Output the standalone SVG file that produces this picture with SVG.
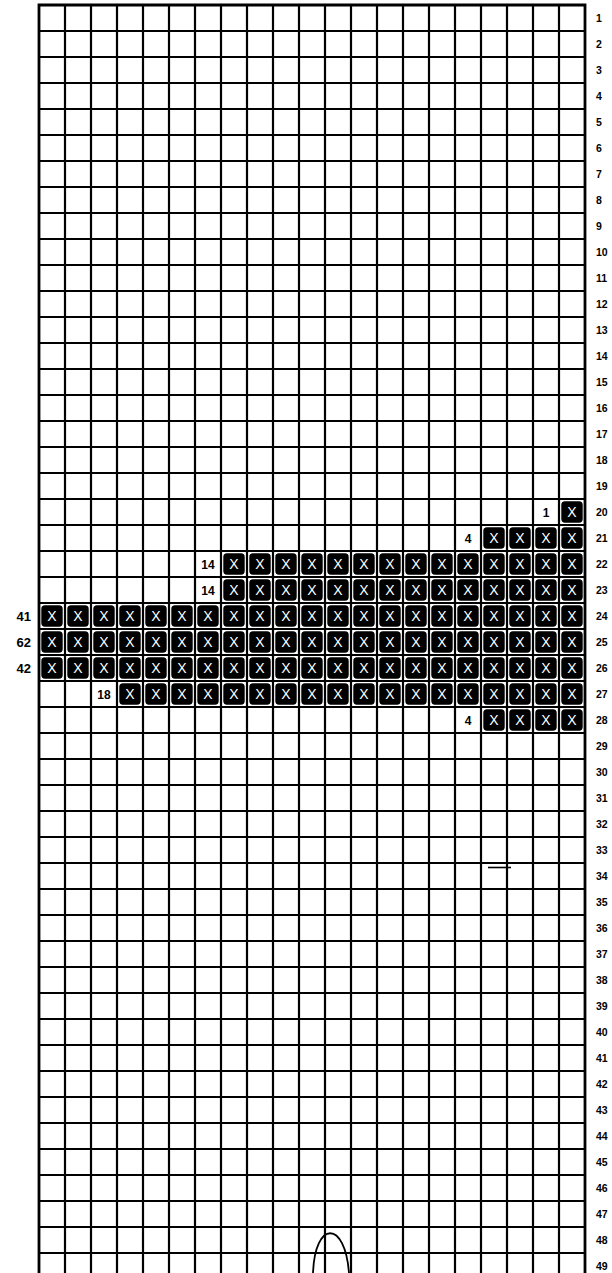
<svg xmlns="http://www.w3.org/2000/svg" width="612" height="1273" viewBox="0 0 612 1273">
<style>
.g{fill:none;stroke:#000;stroke-width:2.2}
.b{fill:none;stroke:#000;stroke-width:2.8}
.c{fill:#000;stroke:#000;stroke-width:1.4}
.x{fill:#fff;font-family:"Liberation Sans",Arial,sans-serif;font-size:14px;text-anchor:middle}
.r{fill:#000;font-family:"Liberation Sans",Arial,sans-serif;font-size:10.5px;font-weight:bold}
.n{fill:#000;font-family:"Liberation Sans",Arial,sans-serif;font-size:12px;font-weight:bold;text-anchor:middle}
.l{fill:#000;font-family:"Liberation Sans",Arial,sans-serif;font-size:13px;font-weight:bold;text-anchor:end}
</style>
<rect width="612" height="1273" fill="#fff"/>
<g id="grid">
<path class="g" d="M65 5V1273M91 5V1273M117 5V1273M143 5V1273M169 5V1273M195 5V1273M221 5V1273M247 5V1273M273 5V1273M299 5V1273M325 5V1273M351 5V1273M377 5V1273M403 5V1273M429 5V1273M455 5V1273M481 5V1273M507 5V1273M533 5V1273M559 5V1273"/>
<path class="g" d="M39 31H585M39 57H585M39 83H585M39 109H585M39 135H585M39 161H585M39 187H585M39 213H585M39 239H585M39 265H585M39 291H585M39 317H585M39 343H585M39 369H585M39 395H585M39 421H585M39 447H585M39 473H585M39 499H585M39 525H585M39 551H585M39 577H585M39 603H585M39 629H585M39 655H585M39 681H585M39 707H585M39 733H585M39 759H585M39 785H585M39 811H585M39 837H585M39 863H585M39 889H585M39 915H585M39 941H585M39 967H585M39 993H585M39 1019H585M39 1045H585M39 1071H585M39 1097H585M39 1123H585M39 1149H585M39 1175H585M39 1201H585M39 1227H585M39 1253H585"/>
<path class="b" d="M39 1273V5H585V1273"/>
</g>
<g id="rowlabels">
<text class="r" x="596" y="21.5">1</text><text class="r" x="596" y="47.5">2</text><text class="r" x="596" y="73.5">3</text><text class="r" x="596" y="99.5">4</text><text class="r" x="596" y="125.5">5</text><text class="r" x="596" y="151.5">6</text><text class="r" x="596" y="177.5">7</text><text class="r" x="596" y="203.5">8</text><text class="r" x="596" y="229.5">9</text><text class="r" x="596" y="255.5">10</text>
<text class="r" x="596" y="281.5">11</text><text class="r" x="596" y="307.5">12</text><text class="r" x="596" y="333.5">13</text><text class="r" x="596" y="359.5">14</text><text class="r" x="596" y="385.5">15</text><text class="r" x="596" y="411.5">16</text><text class="r" x="596" y="437.5">17</text><text class="r" x="596" y="463.5">18</text><text class="r" x="596" y="489.5">19</text><text class="r" x="596" y="515.5">20</text>
<text class="r" x="596" y="541.5">21</text><text class="r" x="596" y="567.5">22</text><text class="r" x="596" y="593.5">23</text><text class="r" x="596" y="619.5">24</text><text class="r" x="596" y="645.5">25</text><text class="r" x="596" y="671.5">26</text><text class="r" x="596" y="697.5">27</text><text class="r" x="596" y="723.5">28</text><text class="r" x="596" y="749.5">29</text><text class="r" x="596" y="775.5">30</text>
<text class="r" x="596" y="801.5">31</text><text class="r" x="596" y="827.5">32</text><text class="r" x="596" y="853.5">33</text><text class="r" x="596" y="879.5">34</text><text class="r" x="596" y="905.5">35</text><text class="r" x="596" y="931.5">36</text><text class="r" x="596" y="957.5">37</text><text class="r" x="596" y="983.5">38</text><text class="r" x="596" y="1009.5">39</text><text class="r" x="596" y="1035.5">40</text>
<text class="r" x="596" y="1061.5">41</text><text class="r" x="596" y="1087.5">42</text><text class="r" x="596" y="1113.5">43</text><text class="r" x="596" y="1139.5">44</text><text class="r" x="596" y="1165.5">45</text><text class="r" x="596" y="1191.5">46</text><text class="r" x="596" y="1217.5">47</text><text class="r" x="596" y="1243.5">48</text><text class="r" x="596" y="1269.5">49</text>
</g>
<g id="counts">
<text class="n" x="546" y="516.5">1</text>
<text class="n" x="468" y="542.5">4</text>
<text class="n" x="208" y="568.5">14</text>
<text class="n" x="208" y="594.5">14</text>
<text class="l" x="31" y="620.5">41</text>
<text class="l" x="31" y="646.5">62</text>
<text class="l" x="31" y="672.5">42</text>
<text class="n" x="104" y="698.5">18</text>
<text class="n" x="468" y="724.5">4</text>
</g>
<g id="row20" transform="translate(0,499)">
<rect class="c" x="562" y="3" width="20" height="20" rx="3"/><text class="x" x="572" y="18">X</text>
</g>
<g id="row21" transform="translate(0,525)">
<rect class="c" x="484" y="3" width="20" height="20" rx="3"/><text class="x" x="494" y="18">X</text>
<rect class="c" x="510" y="3" width="20" height="20" rx="3"/><text class="x" x="520" y="18">X</text>
<rect class="c" x="536" y="3" width="20" height="20" rx="3"/><text class="x" x="546" y="18">X</text>
<rect class="c" x="562" y="3" width="20" height="20" rx="3"/><text class="x" x="572" y="18">X</text>
</g>
<g id="row22" transform="translate(0,551)">
<rect class="c" x="224" y="3" width="20" height="20" rx="3"/><text class="x" x="234" y="18">X</text>
<rect class="c" x="250" y="3" width="20" height="20" rx="3"/><text class="x" x="260" y="18">X</text>
<rect class="c" x="276" y="3" width="20" height="20" rx="3"/><text class="x" x="286" y="18">X</text>
<rect class="c" x="302" y="3" width="20" height="20" rx="3"/><text class="x" x="312" y="18">X</text>
<rect class="c" x="328" y="3" width="20" height="20" rx="3"/><text class="x" x="338" y="18">X</text>
<rect class="c" x="354" y="3" width="20" height="20" rx="3"/><text class="x" x="364" y="18">X</text>
<rect class="c" x="380" y="3" width="20" height="20" rx="3"/><text class="x" x="390" y="18">X</text>
<rect class="c" x="406" y="3" width="20" height="20" rx="3"/><text class="x" x="416" y="18">X</text>
<rect class="c" x="432" y="3" width="20" height="20" rx="3"/><text class="x" x="442" y="18">X</text>
<rect class="c" x="458" y="3" width="20" height="20" rx="3"/><text class="x" x="468" y="18">X</text>
<rect class="c" x="484" y="3" width="20" height="20" rx="3"/><text class="x" x="494" y="18">X</text>
<rect class="c" x="510" y="3" width="20" height="20" rx="3"/><text class="x" x="520" y="18">X</text>
<rect class="c" x="536" y="3" width="20" height="20" rx="3"/><text class="x" x="546" y="18">X</text>
<rect class="c" x="562" y="3" width="20" height="20" rx="3"/><text class="x" x="572" y="18">X</text>
</g>
<g id="row23" transform="translate(0,577)">
<rect class="c" x="224" y="3" width="20" height="20" rx="3"/><text class="x" x="234" y="18">X</text>
<rect class="c" x="250" y="3" width="20" height="20" rx="3"/><text class="x" x="260" y="18">X</text>
<rect class="c" x="276" y="3" width="20" height="20" rx="3"/><text class="x" x="286" y="18">X</text>
<rect class="c" x="302" y="3" width="20" height="20" rx="3"/><text class="x" x="312" y="18">X</text>
<rect class="c" x="328" y="3" width="20" height="20" rx="3"/><text class="x" x="338" y="18">X</text>
<rect class="c" x="354" y="3" width="20" height="20" rx="3"/><text class="x" x="364" y="18">X</text>
<rect class="c" x="380" y="3" width="20" height="20" rx="3"/><text class="x" x="390" y="18">X</text>
<rect class="c" x="406" y="3" width="20" height="20" rx="3"/><text class="x" x="416" y="18">X</text>
<rect class="c" x="432" y="3" width="20" height="20" rx="3"/><text class="x" x="442" y="18">X</text>
<rect class="c" x="458" y="3" width="20" height="20" rx="3"/><text class="x" x="468" y="18">X</text>
<rect class="c" x="484" y="3" width="20" height="20" rx="3"/><text class="x" x="494" y="18">X</text>
<rect class="c" x="510" y="3" width="20" height="20" rx="3"/><text class="x" x="520" y="18">X</text>
<rect class="c" x="536" y="3" width="20" height="20" rx="3"/><text class="x" x="546" y="18">X</text>
<rect class="c" x="562" y="3" width="20" height="20" rx="3"/><text class="x" x="572" y="18">X</text>
</g>
<g id="row24" transform="translate(0,603)">
<rect class="c" x="42" y="3" width="20" height="20" rx="3"/><text class="x" x="52" y="18">X</text>
<rect class="c" x="68" y="3" width="20" height="20" rx="3"/><text class="x" x="78" y="18">X</text>
<rect class="c" x="94" y="3" width="20" height="20" rx="3"/><text class="x" x="104" y="18">X</text>
<rect class="c" x="120" y="3" width="20" height="20" rx="3"/><text class="x" x="130" y="18">X</text>
<rect class="c" x="146" y="3" width="20" height="20" rx="3"/><text class="x" x="156" y="18">X</text>
<rect class="c" x="172" y="3" width="20" height="20" rx="3"/><text class="x" x="182" y="18">X</text>
<rect class="c" x="198" y="3" width="20" height="20" rx="3"/><text class="x" x="208" y="18">X</text>
<rect class="c" x="224" y="3" width="20" height="20" rx="3"/><text class="x" x="234" y="18">X</text>
<rect class="c" x="250" y="3" width="20" height="20" rx="3"/><text class="x" x="260" y="18">X</text>
<rect class="c" x="276" y="3" width="20" height="20" rx="3"/><text class="x" x="286" y="18">X</text>
<rect class="c" x="302" y="3" width="20" height="20" rx="3"/><text class="x" x="312" y="18">X</text>
<rect class="c" x="328" y="3" width="20" height="20" rx="3"/><text class="x" x="338" y="18">X</text>
<rect class="c" x="354" y="3" width="20" height="20" rx="3"/><text class="x" x="364" y="18">X</text>
<rect class="c" x="380" y="3" width="20" height="20" rx="3"/><text class="x" x="390" y="18">X</text>
<rect class="c" x="406" y="3" width="20" height="20" rx="3"/><text class="x" x="416" y="18">X</text>
<rect class="c" x="432" y="3" width="20" height="20" rx="3"/><text class="x" x="442" y="18">X</text>
<rect class="c" x="458" y="3" width="20" height="20" rx="3"/><text class="x" x="468" y="18">X</text>
<rect class="c" x="484" y="3" width="20" height="20" rx="3"/><text class="x" x="494" y="18">X</text>
<rect class="c" x="510" y="3" width="20" height="20" rx="3"/><text class="x" x="520" y="18">X</text>
<rect class="c" x="536" y="3" width="20" height="20" rx="3"/><text class="x" x="546" y="18">X</text>
<rect class="c" x="562" y="3" width="20" height="20" rx="3"/><text class="x" x="572" y="18">X</text>
</g>
<g id="row25" transform="translate(0,629)">
<rect class="c" x="42" y="3" width="20" height="20" rx="3"/><text class="x" x="52" y="18">X</text>
<rect class="c" x="68" y="3" width="20" height="20" rx="3"/><text class="x" x="78" y="18">X</text>
<rect class="c" x="94" y="3" width="20" height="20" rx="3"/><text class="x" x="104" y="18">X</text>
<rect class="c" x="120" y="3" width="20" height="20" rx="3"/><text class="x" x="130" y="18">X</text>
<rect class="c" x="146" y="3" width="20" height="20" rx="3"/><text class="x" x="156" y="18">X</text>
<rect class="c" x="172" y="3" width="20" height="20" rx="3"/><text class="x" x="182" y="18">X</text>
<rect class="c" x="198" y="3" width="20" height="20" rx="3"/><text class="x" x="208" y="18">X</text>
<rect class="c" x="224" y="3" width="20" height="20" rx="3"/><text class="x" x="234" y="18">X</text>
<rect class="c" x="250" y="3" width="20" height="20" rx="3"/><text class="x" x="260" y="18">X</text>
<rect class="c" x="276" y="3" width="20" height="20" rx="3"/><text class="x" x="286" y="18">X</text>
<rect class="c" x="302" y="3" width="20" height="20" rx="3"/><text class="x" x="312" y="18">X</text>
<rect class="c" x="328" y="3" width="20" height="20" rx="3"/><text class="x" x="338" y="18">X</text>
<rect class="c" x="354" y="3" width="20" height="20" rx="3"/><text class="x" x="364" y="18">X</text>
<rect class="c" x="380" y="3" width="20" height="20" rx="3"/><text class="x" x="390" y="18">X</text>
<rect class="c" x="406" y="3" width="20" height="20" rx="3"/><text class="x" x="416" y="18">X</text>
<rect class="c" x="432" y="3" width="20" height="20" rx="3"/><text class="x" x="442" y="18">X</text>
<rect class="c" x="458" y="3" width="20" height="20" rx="3"/><text class="x" x="468" y="18">X</text>
<rect class="c" x="484" y="3" width="20" height="20" rx="3"/><text class="x" x="494" y="18">X</text>
<rect class="c" x="510" y="3" width="20" height="20" rx="3"/><text class="x" x="520" y="18">X</text>
<rect class="c" x="536" y="3" width="20" height="20" rx="3"/><text class="x" x="546" y="18">X</text>
<rect class="c" x="562" y="3" width="20" height="20" rx="3"/><text class="x" x="572" y="18">X</text>
</g>
<g id="row26" transform="translate(0,655)">
<rect class="c" x="42" y="3" width="20" height="20" rx="3"/><text class="x" x="52" y="18">X</text>
<rect class="c" x="68" y="3" width="20" height="20" rx="3"/><text class="x" x="78" y="18">X</text>
<rect class="c" x="94" y="3" width="20" height="20" rx="3"/><text class="x" x="104" y="18">X</text>
<rect class="c" x="120" y="3" width="20" height="20" rx="3"/><text class="x" x="130" y="18">X</text>
<rect class="c" x="146" y="3" width="20" height="20" rx="3"/><text class="x" x="156" y="18">X</text>
<rect class="c" x="172" y="3" width="20" height="20" rx="3"/><text class="x" x="182" y="18">X</text>
<rect class="c" x="198" y="3" width="20" height="20" rx="3"/><text class="x" x="208" y="18">X</text>
<rect class="c" x="224" y="3" width="20" height="20" rx="3"/><text class="x" x="234" y="18">X</text>
<rect class="c" x="250" y="3" width="20" height="20" rx="3"/><text class="x" x="260" y="18">X</text>
<rect class="c" x="276" y="3" width="20" height="20" rx="3"/><text class="x" x="286" y="18">X</text>
<rect class="c" x="302" y="3" width="20" height="20" rx="3"/><text class="x" x="312" y="18">X</text>
<rect class="c" x="328" y="3" width="20" height="20" rx="3"/><text class="x" x="338" y="18">X</text>
<rect class="c" x="354" y="3" width="20" height="20" rx="3"/><text class="x" x="364" y="18">X</text>
<rect class="c" x="380" y="3" width="20" height="20" rx="3"/><text class="x" x="390" y="18">X</text>
<rect class="c" x="406" y="3" width="20" height="20" rx="3"/><text class="x" x="416" y="18">X</text>
<rect class="c" x="432" y="3" width="20" height="20" rx="3"/><text class="x" x="442" y="18">X</text>
<rect class="c" x="458" y="3" width="20" height="20" rx="3"/><text class="x" x="468" y="18">X</text>
<rect class="c" x="484" y="3" width="20" height="20" rx="3"/><text class="x" x="494" y="18">X</text>
<rect class="c" x="510" y="3" width="20" height="20" rx="3"/><text class="x" x="520" y="18">X</text>
<rect class="c" x="536" y="3" width="20" height="20" rx="3"/><text class="x" x="546" y="18">X</text>
<rect class="c" x="562" y="3" width="20" height="20" rx="3"/><text class="x" x="572" y="18">X</text>
</g>
<g id="row27" transform="translate(0,681)">
<rect class="c" x="120" y="3" width="20" height="20" rx="3"/><text class="x" x="130" y="18">X</text>
<rect class="c" x="146" y="3" width="20" height="20" rx="3"/><text class="x" x="156" y="18">X</text>
<rect class="c" x="172" y="3" width="20" height="20" rx="3"/><text class="x" x="182" y="18">X</text>
<rect class="c" x="198" y="3" width="20" height="20" rx="3"/><text class="x" x="208" y="18">X</text>
<rect class="c" x="224" y="3" width="20" height="20" rx="3"/><text class="x" x="234" y="18">X</text>
<rect class="c" x="250" y="3" width="20" height="20" rx="3"/><text class="x" x="260" y="18">X</text>
<rect class="c" x="276" y="3" width="20" height="20" rx="3"/><text class="x" x="286" y="18">X</text>
<rect class="c" x="302" y="3" width="20" height="20" rx="3"/><text class="x" x="312" y="18">X</text>
<rect class="c" x="328" y="3" width="20" height="20" rx="3"/><text class="x" x="338" y="18">X</text>
<rect class="c" x="354" y="3" width="20" height="20" rx="3"/><text class="x" x="364" y="18">X</text>
<rect class="c" x="380" y="3" width="20" height="20" rx="3"/><text class="x" x="390" y="18">X</text>
<rect class="c" x="406" y="3" width="20" height="20" rx="3"/><text class="x" x="416" y="18">X</text>
<rect class="c" x="432" y="3" width="20" height="20" rx="3"/><text class="x" x="442" y="18">X</text>
<rect class="c" x="458" y="3" width="20" height="20" rx="3"/><text class="x" x="468" y="18">X</text>
<rect class="c" x="484" y="3" width="20" height="20" rx="3"/><text class="x" x="494" y="18">X</text>
<rect class="c" x="510" y="3" width="20" height="20" rx="3"/><text class="x" x="520" y="18">X</text>
<rect class="c" x="536" y="3" width="20" height="20" rx="3"/><text class="x" x="546" y="18">X</text>
<rect class="c" x="562" y="3" width="20" height="20" rx="3"/><text class="x" x="572" y="18">X</text>
</g>
<g id="row28" transform="translate(0,707)">
<rect class="c" x="484" y="3" width="20" height="20" rx="3"/><text class="x" x="494" y="18">X</text>
<rect class="c" x="510" y="3" width="20" height="20" rx="3"/><text class="x" x="520" y="18">X</text>
<rect class="c" x="536" y="3" width="20" height="20" rx="3"/><text class="x" x="546" y="18">X</text>
<rect class="c" x="562" y="3" width="20" height="20" rx="3"/><text class="x" x="572" y="18">X</text>
</g>
<g id="marks">
<path d="M488 867.5H511" fill="none" stroke="#000" stroke-width="1.6"/>
<path d="M313 1273C315 1220 345 1220 349 1273" fill="none" stroke="#000" stroke-width="1.8"/>
</g>
</svg>
